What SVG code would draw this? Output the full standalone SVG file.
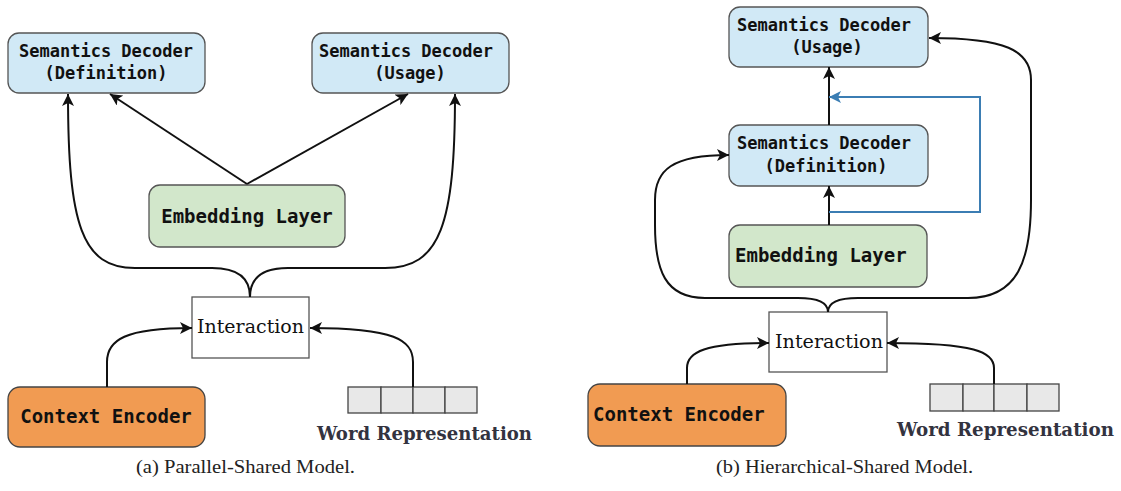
<svg xmlns="http://www.w3.org/2000/svg" width="1121" height="491" viewBox="0 0 1121 491">
<style>
.dec{fill:#d1e9f6;stroke:#555;stroke-width:1.3}
.emb{fill:#d2e7cb;stroke:#555;stroke-width:1.3}
.ctx{fill:#f19b52;stroke:#444;stroke-width:1.3}
.int{fill:#fff;stroke:#555;stroke-width:1.3}
.cell{fill:#e8e8e8;stroke:#444;stroke-width:1.3}
.mono{font-family:"DejaVu Sans Mono","Liberation Mono",monospace;font-weight:bold;fill:#111}
.serif{font-family:"DejaVu Serif","Liberation Serif",serif;fill:#111}
.wr{font-family:"DejaVu Serif","Liberation Serif",serif;font-weight:bold;fill:#33333f}
.cap{font-family:"Liberation Serif","DejaVu Serif",serif;fill:#222}
.blk{fill:none;stroke:#111;stroke-width:2}
.blu{fill:none;stroke:#3b7db3;stroke-width:2}
</style>
<defs>
<marker id="ah" viewBox="0 0 12 12" refX="12" refY="6" markerWidth="12" markerHeight="12" markerUnits="userSpaceOnUse" orient="auto">
<path d="M0,0 L12,6 L0,12 L3,6 Z" fill="#111"/>
</marker>
<marker id="ahb" viewBox="0 0 12 12" refX="12" refY="6" markerWidth="12" markerHeight="12" markerUnits="userSpaceOnUse" orient="auto">
<path d="M0,0 L12,6 L0,12 L3,6 Z" fill="#3b7db3"/>
</marker>
</defs>

<!-- Panel (a) -->
<g id="a-dec-def">
<rect class="dec" x="8" y="33" width="197" height="60" rx="11"/>
<text class="mono" font-size="17" x="106" y="57" text-anchor="middle">Semantics Decoder</text>
<text class="mono" font-size="17" x="106" y="79" text-anchor="middle">(Definition)</text>
</g>
<g id="a-dec-usage">
<rect class="dec" x="312" y="33" width="197" height="60" rx="11"/>
<text class="mono" font-size="17" x="406" y="57" text-anchor="middle">Semantics Decoder</text>
<text class="mono" font-size="17" x="410" y="79" text-anchor="middle">(Usage)</text>
</g>
<g id="a-embedding">
<rect class="emb" x="149" y="185" width="196" height="62" rx="11"/>
<text class="mono" font-size="19" x="247" y="223" text-anchor="middle">Embedding Layer</text>
</g>
<g id="a-interaction">
<rect class="int" x="192" y="297" width="117" height="61"/>
<text class="serif" font-size="19" x="197" y="333" textLength="107" lengthAdjust="spacingAndGlyphs">Interaction</text>
</g>
<g id="a-context">
<rect class="ctx" x="8" y="387" width="197" height="60" rx="12"/>
<text class="mono" font-size="19" x="106" y="423" text-anchor="middle">Context Encoder</text>
</g>
<g id="a-word">
<rect class="cell" x="348" y="387" width="33" height="26"/>
<rect class="cell" x="381" y="387" width="32" height="26"/>
<rect class="cell" x="413" y="387" width="32" height="26"/>
<rect class="cell" x="445" y="387" width="32" height="26"/>
<text class="wr" font-size="19" x="317" y="440" textLength="215" lengthAdjust="spacingAndGlyphs">Word Representation</text>
</g>
<text class="cap" font-size="19" x="136" y="473" textLength="219" lengthAdjust="spacingAndGlyphs">(a)  Parallel-Shared Model.</text>

<!-- Panel (b) -->
<g id="b-dec-usage">
<rect class="dec" x="729" y="7" width="199" height="60" rx="11"/>
<text class="mono" font-size="17" x="824" y="31" text-anchor="middle">Semantics Decoder</text>
<text class="mono" font-size="17" x="827" y="53" text-anchor="middle">(Usage)</text>
</g>
<g id="b-dec-def">
<rect class="dec" x="729" y="125" width="199" height="61" rx="11"/>
<text class="mono" font-size="17" x="824" y="149" text-anchor="middle">Semantics Decoder</text>
<text class="mono" font-size="17" x="826" y="172" text-anchor="middle">(Definition)</text>
</g>
<g id="b-embedding">
<rect class="emb" x="729" y="225" width="198" height="62" rx="11"/>
<text class="mono" font-size="19" x="735" y="262">Embedding Layer</text>
</g>
<g id="b-interaction">
<rect class="int" x="769" y="312" width="118" height="60"/>
<text class="serif" font-size="19" x="775" y="348" textLength="108" lengthAdjust="spacingAndGlyphs">Interaction</text>
</g>
<g id="b-context">
<rect class="ctx" x="588" y="384" width="198" height="62" rx="12"/>
<text class="mono" font-size="19" x="593" y="421">Context Encoder</text>
</g>
<g id="b-word">
<rect class="cell" x="930" y="384" width="33" height="27"/>
<rect class="cell" x="963" y="384" width="31" height="27"/>
<rect class="cell" x="994" y="384" width="33" height="27"/>
<rect class="cell" x="1027" y="384" width="32" height="27"/>
<text class="wr" font-size="19" x="897" y="436" textLength="217" lengthAdjust="spacingAndGlyphs">Word Representation</text>
</g>
<text class="cap" font-size="19" x="716" y="473" textLength="257" lengthAdjust="spacingAndGlyphs">(b)  Hierarchical-Shared Model.</text>

<g id="connectors">
<!-- panel a -->
<path class="blk" d="M247,184 L110,94" marker-end="url(#ah)"/>
<path class="blk" d="M247,184 L408,94" marker-end="url(#ah)"/>
<path class="blk" d="M250,297 C250,280 240,268 212,268 L135,268 C82,268 68,225 68,94" marker-end="url(#ah)"/>
<path class="blk" d="M250,297 C250,280 260,268 288,268 L385,268 C440,268 455,225 455,94" marker-end="url(#ah)"/>
<path class="blk" d="M107,387 L107,362 C107,340 125,328 192,328" marker-end="url(#ah)"/>
<path class="blk" d="M413,387 L413,362 C413,340 395,328 310,328" marker-end="url(#ah)"/>
<!-- panel b -->
<path class="blk" d="M829,125 L829,67" marker-end="url(#ah)"/>
<path class="blk" d="M829,225 L829,186" marker-end="url(#ah)"/>
<path class="blu" d="M829,212 L980,212 L980,97 L829,97" marker-end="url(#ahb)"/>
<path class="blk" d="M828,312 C828,303 818,298 798,298 L705,298 C665,298 655,270 655,225 L655,200 C655,170 672,155 729,155" marker-end="url(#ah)"/>
<path class="blk" d="M828,312 C828,303 838,298 858,298 L968,298 C1018,298 1031,260 1031,200 L1031,80 C1031,50 1005,38 929,38" marker-end="url(#ah)"/>
<path class="blk" d="M687,384 L687,368 C687,352 705,343 769,343" marker-end="url(#ah)"/>
<path class="blk" d="M994,384 L994,368 C994,352 975,343 887,343" marker-end="url(#ah)"/>
</g>
</svg>
